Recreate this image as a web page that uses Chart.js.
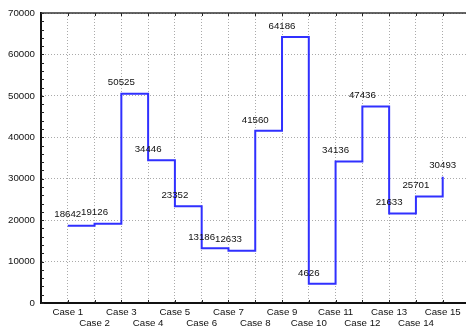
<!DOCTYPE html>
<html>
<head>
<meta charset="utf-8">
<script src="https://cdn.jsdelivr.net/npm/chart.js@4/dist/chart.umd.min.js"></script>
<style>
  html, body { margin: 0; padding: 0; background: #fff; }
  #wrap { width: 466px; height: 331px; position: relative; }
</style>
</head>
<body>
<div id="wrap"><canvas id="c" width="466" height="331"></canvas></div>
<script>
// Case names along the bottom axis
const categories = ['Case 1', 'Case 2', 'Case 3', 'Case 4', 'Case 5', 'Case 6', 'Case 7', 'Case 8',
  'Case 9', 'Case 10', 'Case 11', 'Case 12', 'Case 13', 'Case 14', 'Case 15'];
// Value per case
const values = [18642, 19126, 50525, 34446, 23352, 13186, 12633, 41560,
  64186, 4626, 34136, 47436, 21633, 25701, 30493];
// Left axis ticks
const yTicks = [0, 10000, 20000, 30000, 40000, 50000, 60000, 70000];
const yMinorStep = 2000;

const FONT = { family: 'Arial, "Liberation Sans", sans-serif', size: 9.7 };
const TEXT = '#111';

const points = values.map((v, i) => ({ x: i + 1, y: v }));

// Inner tick marks, top frame line and value labels
const decor = {
  id: 'decor',
  afterDraw(chart) {
    const { ctx, chartArea: a, scales: { x, y } } = chart;
    ctx.save();
    ctx.strokeStyle = '#222';
    ctx.lineWidth = 1;
    // minor + major ticks on the left axis, pointing inward
    for (let v = 0; v <= 70000; v += yMinorStep) {
      const py = Math.round(y.getPixelForValue(v)) + 0.5;
      ctx.beginPath();
      ctx.moveTo(a.left, py);
      ctx.lineTo(a.left + 3, py);
      ctx.stroke();
    }
    // case ticks on bottom and top frame
    categories.forEach((_, i) => {
      const px = Math.round(x.getPixelForValue(i + 1)) + 0.5;
      ctx.beginPath();
      ctx.moveTo(px, a.bottom);
      ctx.lineTo(px, a.bottom - 3);
      ctx.moveTo(px, a.top);
      ctx.lineTo(px, a.top + 3);
      ctx.stroke();
    });
    // top frame line
    ctx.strokeStyle = '#333';
    ctx.lineWidth = 1.6;
    ctx.beginPath();
    ctx.moveTo(a.left, a.top);
    ctx.lineTo(a.right, a.top);
    ctx.stroke();
    // value labels above each point
    ctx.fillStyle = TEXT;
    ctx.font = FONT.size + 'px ' + FONT.family;
    ctx.textAlign = 'center';
    ctx.textBaseline = 'middle';
    const meta = chart.getDatasetMeta(0);
    meta.data.forEach((pt, i) => {
      ctx.fillText(String(values[i]), pt.x, pt.y - 11);
    });
    ctx.restore();
  }
};

new Chart(document.getElementById('c'), {
  type: 'line',
  data: {
    datasets: [{
      data: points,
      stepped: true,
      borderColor: '#3030ff',
      borderWidth: 2,
      pointRadius: 0,
      fill: false
    }]
  },
  options: {
    responsive: false,
    animation: false,
    devicePixelRatio: 1,
    layout: { padding: { top: 13, right: 0, left: 0, bottom: 0 } },
    plugins: { legend: { display: false }, tooltip: { enabled: false } },
    scales: {
      x: {
        type: 'linear',
        min: 0,
        max: 15.87,
        afterFit(s) { s.height = 28; },
        afterBuildTicks(s) {
          s.ticks = categories.map((_, i) => ({ value: i + 1 }));
        },
        // in v4 border.dash styles the grid lines; the axis line stays solid
        border: { display: true, color: '#111', width: 2, dash: [1, 2] },
        grid: {
          drawTicks: false,
          color: '#aaaaaa',
          lineWidth: 1
        },
        ticks: {
          autoSkip: false,
          maxRotation: 0,
          padding: 4,
          color: TEXT,
          font: { ...FONT, lineHeight: 1.1 },
          callback(v) {
            const i = Math.round(v) - 1;
            const name = categories[i];
            return i % 2 === 0 ? [name, ''] : ['', name];
          }
        }
      },
      y: {
        min: 0,
        max: 70000,
        afterFit(s) { s.width = 41; },
        afterBuildTicks(s) {
          s.ticks = yTicks.map(v => ({ value: v }));
        },
        border: { display: true, color: '#111', width: 2, dash: [1, 2] },
        grid: {
          drawTicks: false,
          color: '#aaaaaa',
          lineWidth: 1
        },
        ticks: {
          padding: 6,
          color: TEXT,
          font: FONT,
          callback(v) { return String(v); }
        }
      }
    }
  },
  plugins: [decor]
});
</script>
</body>
</html>
